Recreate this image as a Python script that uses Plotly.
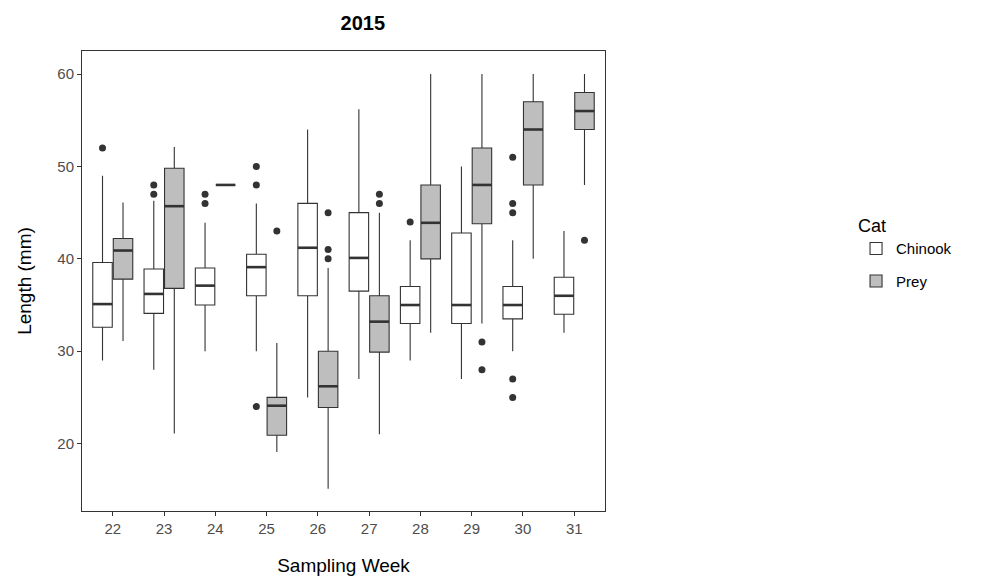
import plotly.graph_objects as go

weeks = [22, 23, 24, 25, 26, 27, 28, 29, 30, 31]
# Chinook
ch_low = [29, 28, 30, 30, 25, 27, 29, 27, 30, 32]
ch_q1 = [32.6, 34.1, 35, 36, 36, 36.5, 33, 33, 33.5, 34]
ch_med = [35.1, 36.2, 37.1, 39.1, 41.2, 40.1, 35, 35, 35, 36]
ch_q3 = [39.6, 38.9, 39, 40.5, 46, 45, 37, 42.8, 37, 38]
ch_up = [49, 46.3, 43.9, 46, 54, 56.2, 42, 50, 42, 43]
ch_out = [[52], [47, 48], [46, 47], [24, 48, 50], [], [], [44], [], [25, 27, 45, 46, 51], []]
# Prey
pr_low = [31.1, 21.1, 48, 19.1, 15.1, 21, 32, 33, 40, 48]
pr_q1 = [37.8, 36.8, 48, 20.9, 23.9, 29.9, 40, 43.8, 48, 54]
pr_med = [40.9, 45.7, 48, 24.1, 26.2, 33.2, 43.9, 48, 54, 56]
pr_q3 = [42.2, 49.8, 48, 25, 30, 36, 48, 52, 57, 58]
pr_up = [46.1, 52.1, 48, 30.9, 39, 45, 60, 60, 60, 60]
pr_out = [[], [], [], [43], [40, 41, 45], [46, 47], [], [28, 31], [], [42]]

W = 0.38
fig = go.Figure()
for name, fill, off, lo, q1, md, q3, up, outs in [
    ("Chinook", "white", -0.2, ch_low, ch_q1, ch_med, ch_q3, ch_up, ch_out),
    ("Prey", "#bebebe", 0.2, pr_low, pr_q1, pr_med, pr_q3, pr_up, pr_out)]:
    xs = [w + off for w in weeks]
    fig.add_trace(go.Box(x=xs, q1=q1, median=md, q3=q3, lowerfence=lo, upperfence=up,
                         name=name, fillcolor=fill, line=dict(color="#333333", width=1.1),
                         width=W, boxpoints=False, whiskerwidth=0, legendgroup=name))
    mx, my = [], []
    for x, m in zip(xs, md):
        mx += [x - W / 2, x + W / 2, None]; my += [m, m, None]
    fig.add_trace(go.Scatter(x=mx, y=my, mode="lines", line=dict(color="#333333", width=2.6),
                             showlegend=False, hoverinfo="skip"))
    ox, oy = [], []
    for x, o in zip(xs, outs):
        ox += [x] * len(o); oy += o
    fig.add_trace(go.Scatter(x=ox, y=oy, mode="markers", marker=dict(color="#333333", size=7),
                             showlegend=False, legendgroup=name, hoverinfo="y"))

fig.update_layout(
    width=1008, height=588, plot_bgcolor="white", paper_bgcolor="white",
    margin=dict(l=74, r=411, t=43, b=85),
    title=dict(text="<b>2015</b>", x=0.352, xanchor="center", y=0.975, yanchor="middle",
               font=dict(size=20, color="black", family="Liberation Sans")),
    font=dict(family="Liberation Sans", color="#4d4d4d", size=15),
    legend=dict(x=1.48, y=0.56, xanchor="left", yanchor="middle", title=dict(text="Cat", font=dict(size=18, color="black")),
                font=dict(size=15, color="black"), bgcolor="white"),
)
fig.update_xaxes(range=[21.4, 31.6], tickvals=weeks, ticktext=[str(w) for w in weeks], showgrid=False,
                 showline=True, mirror=True, linecolor="#333333", ticks="outside", ticklen=4, tickcolor="#333333",
                 title=dict(text="Sampling Week", standoff=22, font=dict(size=19, color="black")), zeroline=False)
fig.update_yaxes(range=[12.7, 62.5], tickvals=[20, 30, 40, 50, 60], showgrid=False,
                 showline=True, mirror=True, linecolor="#333333", ticks="outside", ticklen=4, tickcolor="#333333",
                 title=dict(text="Length (mm)", standoff=20, font=dict(size=19, color="black")), zeroline=False)
fig.write_html("out.html")
